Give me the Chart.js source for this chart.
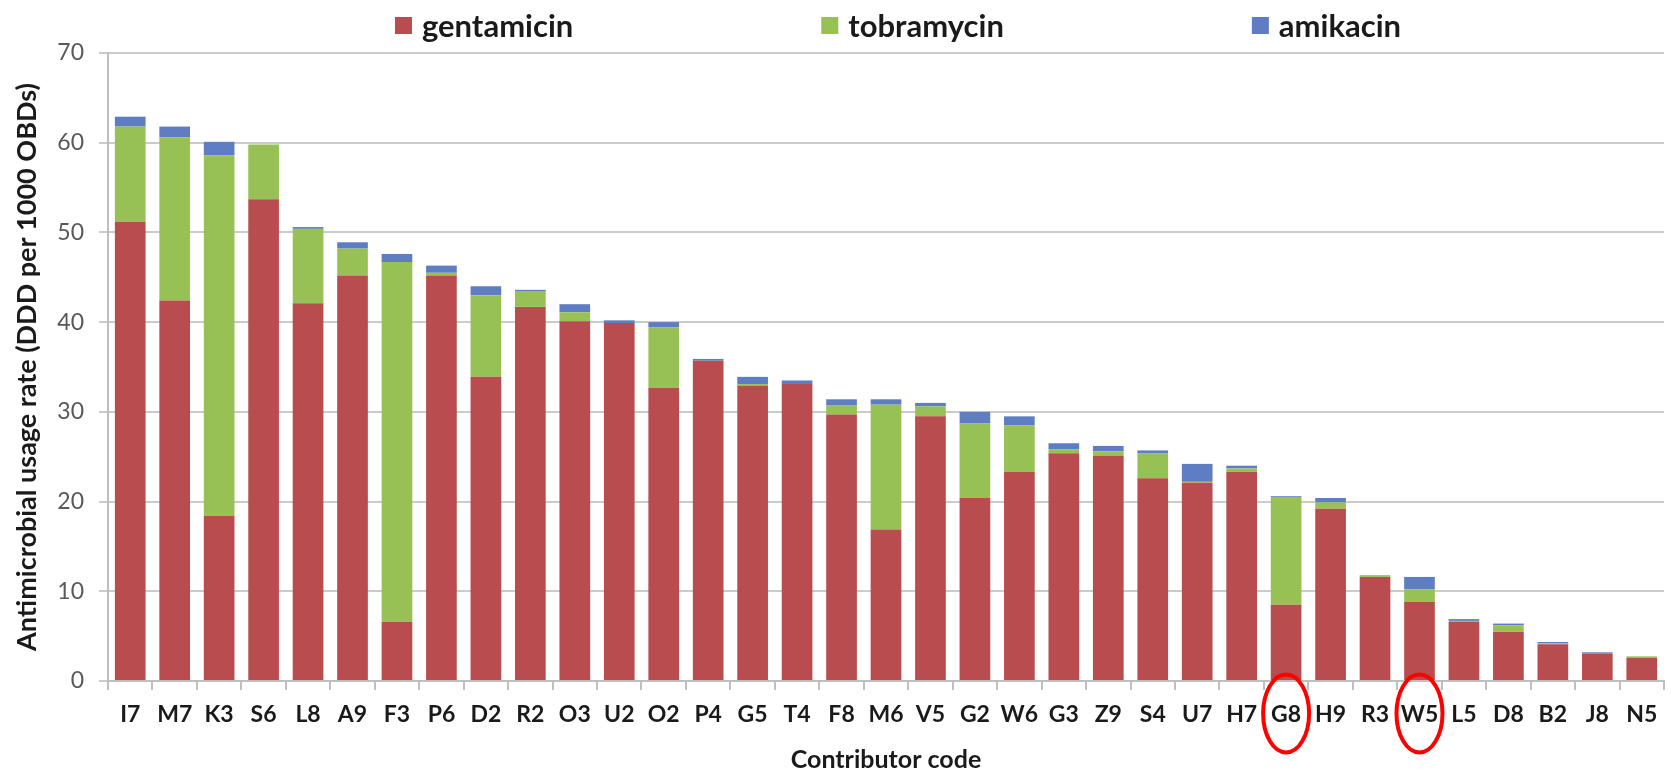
<!DOCTYPE html>
<html>
<head>
<meta charset="utf-8">
<script src="https://cdn.jsdelivr.net/npm/chart.js@4.4.1/dist/chart.umd.min.js"></script>
<style>
  body { margin: 0; background: #fff; }
</style>
</head>
<body>
<canvas id="usage_chart" width="1671" height="775"></canvas>
<script>
const contributors = ['I7', 'M7', 'K3', 'S6', 'L8', 'A9', 'F3', 'P6', 'D2', 'R2', 'O3', 'U2', 'O2', 'P4', 'G5', 'T4', 'F8', 'M6', 'V5', 'G2', 'W6', 'G3', 'Z9', 'S4', 'U7', 'H7', 'G8', 'H9', 'R3', 'W5', 'L5', 'D8', 'B2', 'J8', 'N5'];
const gentamicin = [51.2, 42.4, 18.4, 53.7, 42.1, 45.2, 6.6, 45.2, 33.9, 41.7, 40.1, 39.9, 32.7, 35.7, 32.9, 33.1, 29.7, 16.9, 29.5, 20.4, 23.3, 25.4, 25.1, 22.6, 22.1, 23.3, 8.5, 19.2, 11.6, 8.8, 6.6, 5.5, 4.1, 3.05, 2.6];
const tobramycin = [10.6, 18.2, 40.2, 6.1, 8.3, 3.0, 40.1, 0.3, 9.1, 1.7, 1.0, 0, 6.7, 0, 0.2, 0, 1.0, 13.9, 1.1, 8.3, 5.2, 0.4, 0.5, 2.8, 0.1, 0.4, 12.0, 0.7, 0.2, 1.4, 0.1, 0.7, 0.1, 0, 0.15];
const amikacin = [1.1, 1.2, 1.5, 0, 0.2, 0.7, 0.9, 0.8, 1.0, 0.2, 0.9, 0.3, 0.6, 0.2, 0.8, 0.4, 0.7, 0.6, 0.4, 1.3, 1.0, 0.7, 0.6, 0.3, 2.0, 0.3, 0.1, 0.5, 0, 1.4, 0.2, 0.2, 0.15, 0.15, 0];
const circled = ['G8', 'W5'];

const FONT = 'Lato, "Open Sans", sans-serif';

// excel style legend: spread out over the top, centered on the plot
const spreadLegend = {
    id: 'spreadLegend',
    afterDraw(chart) {
        const ctx = chart.ctx;
        const box = 17, textGap = 10, itemGap = 248;
        ctx.save();
        ctx.font = 'bold 31px ' + FONT;
        ctx.textBaseline = 'middle';
        const items = chart.data.datasets.map(ds => ({
            text: ds.label,
            color: ds.backgroundColor,
            width: box + textGap + ctx.measureText(ds.label).width
        }));
        let total = items.reduce((s, it) => s + it.width, 0) + itemGap * (items.length - 1);
        let x = (chart.chartArea.left + chart.chartArea.right) / 2 + 12 - total / 2;
        const y = 25.5;
        for (const it of items) {
            ctx.fillStyle = it.color;
            ctx.fillRect(x, y - box / 2, box, box);
            ctx.fillStyle = '#1a1a1a';
            ctx.fillText(it.text, x + box + textGap, y + 1);
            x += it.width + itemGap;
        }
        ctx.restore();
    }
};

// red rings round some of the x labels
const labelRings = {
    id: 'labelRings',
    afterDraw(chart) {
        const ctx = chart.ctx;
        const xScale = chart.scales.x;
        ctx.save();
        ctx.strokeStyle = '#ff0000';
        ctx.lineWidth = 4;
        for (const code of circled) {
            const cx = xScale.getPixelForValue(contributors.indexOf(code));
            ctx.beginPath();
            ctx.ellipse(cx, 713.5, 23, 39, 0, 0, Math.PI * 2);
            ctx.stroke();
        }
        ctx.restore();
    }
};

new Chart(document.getElementById('usage_chart'), {
    type: 'bar',
    data: {
        labels: contributors,
        datasets: [
            { label: 'gentamicin', data: gentamicin, backgroundColor: '#B94C4E' },
            { label: 'tobramycin', data: tobramycin, backgroundColor: '#98C155' },
            { label: 'amikacin', data: amikacin, backgroundColor: '#5F7DC2' }
        ]
    },
    options: {
        responsive: false,
        animation: false,
        layout: { padding: { top: 53, right: 7, left: 0, bottom: 0 } },
        datasets: {
            bar: { categoryPercentage: 1, barPercentage: 0.69, borderWidth: 0 }
        },
        scales: {
            x: {
                stacked: true,
                afterFit: scale => { scale.height = 94; },
                grid: { drawOnChartArea: false, tickLength: 9, color: '#BFBFBF', lineWidth: 2 },
                border: { color: '#BFBFBF', width: 2 },
                ticks: { color: '#1a1a1a', padding: 11, font: { family: FONT, size: 23, weight: 'bold' }, maxRotation: 0, autoSkip: false },
                title: {
                    display: true,
                    text: 'Contributor code',
                    color: '#1a1a1a',
                    padding: { top: 0, bottom: 0 },
                    font: { family: FONT, size: 25, weight: 'bold' }
                }
            },
            y: {
                stacked: true,
                min: 0,
                max: 70,
                afterFit: scale => { scale.width = 108; },
                grid: { color: '#CBCBCB', lineWidth: 2, tickLength: 9 },
                border: { color: '#BFBFBF', width: 2 },
                ticks: { stepSize: 10, color: '#595959', padding: 15, font: { family: FONT, size: 23 } },
                title: {
                    display: true,
                    text: 'Antimicrobial usage rate (DDD per 1000 OBDs)',
                    color: '#1a1a1a',
                    padding: { top: 11, bottom: 0 },
                    font: { family: FONT, size: 27, weight: 'bold' }
                }
            }
        },
        plugins: {
            legend: { display: false },
            tooltip: { enabled: false }
        }
    },
    plugins: [spreadLegend, labelRings]
});
</script>
</body>
</html>
